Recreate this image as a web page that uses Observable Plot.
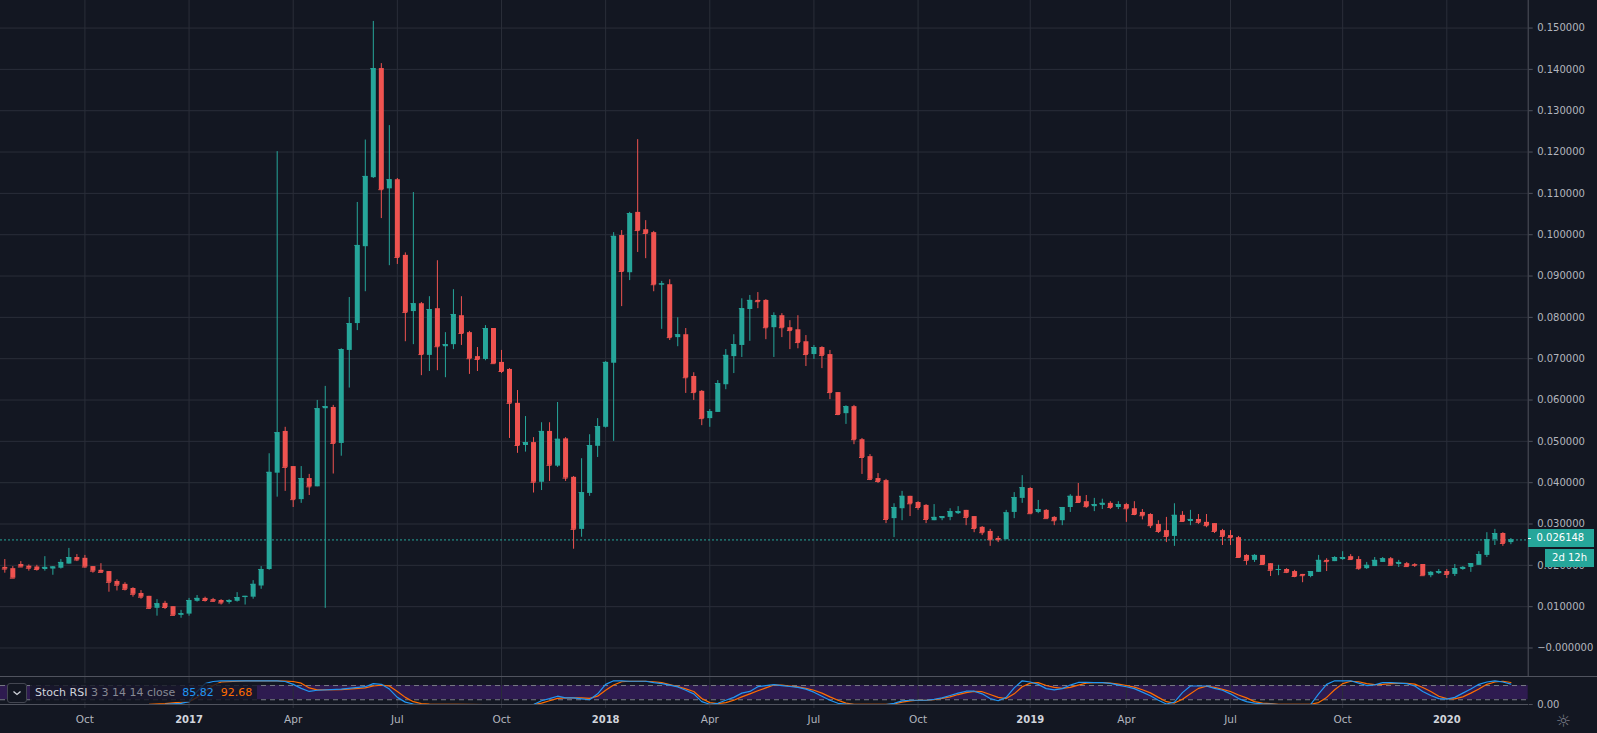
<!DOCTYPE html>
<html>
<head>
<meta charset="utf-8">
<script src="https://cdn.jsdelivr.net/npm/d3@7"></script>
<script src="https://cdn.jsdelivr.net/npm/@observablehq/plot@0.6"></script>
<style>
  html, body { margin:0; padding:0; background:#131722; }
  #wrap { position:relative; width:1597px; height:733px; overflow:hidden; background:#131722; font-family:"DejaVu Sans", Verdana, sans-serif; }
  #price, #stoch { position:absolute; left:0; }
  #price { top:0; }
  #stoch { top:676px; }
  .sep { position:absolute; left:0; height:1px; background:#50535e; }
  .tag { position:absolute; color:#fff; font-size:10px; box-sizing:border-box; }
  #legend { position:absolute; left:30px; top:683px; height:19px; line-height:19px; padding:0 5px; background:rgba(19,23,34,0.8); font-size:11px; white-space:nowrap; }
  #chev { position:absolute; left:7px; top:683px; width:20px; height:20px; border:1px solid #434651; border-radius:3px; box-sizing:border-box; background:#131722; }
  #gear { position:absolute; left:1556px; top:711px; color:#787b86; font-size:17px; font-family:"DejaVu Sans", sans-serif; }
</style>
</head>
<body>
<div id="wrap">
  <div id="price"></div>
  <div id="stoch"></div>
  <div class="sep" style="top:676px;width:1597px"></div>
  <div class="sep" style="top:704px;width:1528px"></div>
  <div id="chev"><svg width="18" height="18"><polyline points="5.5,7.5 9,10.5 12.5,7.5" fill="none" stroke="#d1d4dc" stroke-width="1.3"/></svg></div>
  <div id="legend"><span style="color:#d1d4dc">Stoch RSI</span><span style="color:#868993"> 3 3 14 14 close</span><span style="color:#2196f3">&nbsp; 85.82</span><span style="color:#ff6d00">&nbsp; 92.68</span></div>
  <div class="tag" id="lastTag" style="left:1528px;top:529px;width:66px;height:18px;line-height:18px;background:#26a69a;padding-left:8.5px"></div>
  <div style="position:absolute;left:1528px;top:538px;width:3px;height:1px;background:#fff"></div>
  <div class="tag" id="timerTag" style="left:1545px;top:549px;width:49px;height:18px;line-height:18px;background:#26a69a;text-align:center">2d 12h</div>
  <div id="gear">☼</div>
</div>
<script>
// ---- weekly candles (prices in thousandths, ×0.001), first bar = week of 2016-07-25 ----
const firstWeek = "2016-07-25";
const priceUnit = 0.001;
const openK = [19.5,19.2,20.2,19.8,19.6,19.0,19.1,19.3,20.3,21.9,21.7,19.7,18.8,18.5,16.1,15.4,14.4,13.2,12.5,9.6,
10.8,10.0,7.9,8.2,11.3,12.0,11.7,11.5,11.0,11.3,12.2,12.3,15.0,19.0,42.3,52.4,43.9,35.9,41.0,39.0,
57.9,58.2,49.5,72.0,78.5,97.1,113.8,140.2,111.1,113.3,95.0,81.4,83.3,70.8,82.1,72.9,73.4,80.4,76.3,70.5,
69.8,77.3,69.1,67.4,59.2,49.0,49.7,40.1,52.4,44.0,50.6,41.3,28.7,37.4,48.8,53.4,68.9,99.8,90.8,105.4,
101.2,100.5,87.8,87.9,75.1,75.8,65.7,62.1,55.5,57.0,63.7,70.5,73.2,81.9,84.1,84.1,77.5,80.4,77.5,77.0,
74.1,71.0,72.7,71.0,61.8,56.7,58.4,50.4,46.3,41.0,40.5,31.3,33.7,36.7,35.2,34.5,30.8,31.3,31.6,32.5,
33.3,31.8,29.2,28.2,26.5,26.2,32.8,36.2,38.6,32.8,33.3,31.6,30.8,34.0,36.7,35.4,34.2,34.5,35.0,34.0,
34.7,33.7,32.8,32.3,29.9,28.4,27.0,32.1,30.6,31.1,30.4,30.1,28.4,27.2,26.7,22.4,21.2,22.4,20.4,18.8,
19.0,18.5,17.8,17.3,18.3,21.2,20.9,21.4,22.1,21.4,19.2,19.7,20.7,21.6,20.2,20.4,20.2,20.2,17.5,18.0,
18.5,17.8,19.0,19.5,20.0,22.4,26.2,27.7,25.5];
const highK = [21.4,19.7,20.9,20.1,20.0,22.1,19.7,21.4,24.1,22.6,22.4,19.7,20.4,18.5,16.5,15.8,14.6,13.9,12.5,11.7,
11.3,10.0,9.1,12.0,12.7,12.3,12.0,11.7,11.7,13.4,12.5,16.3,19.7,47.0,120.1,53.4,43.9,43.9,42.0,59.9,
63.3,58.7,72.4,84.8,107.8,122.9,151.6,141.4,126.4,113.6,95.6,110.2,83.6,85.0,93.7,76.3,86.7,85.0,76.6,72.7,
78.0,77.3,72.0,67.6,62.3,56.0,50.9,54.5,54.5,59.4,50.9,41.5,45.8,51.6,55.5,69.3,100.5,101.0,105.4,123.0,
103.4,100.8,88.7,89.1,79.9,77.3,66.6,62.3,57.7,64.7,72.2,75.8,84.5,85.3,86.0,84.3,81.1,80.9,79.2,80.4,
75.6,73.2,72.9,72.0,61.8,58.6,58.7,50.7,46.8,42.2,40.8,34.9,37.9,36.7,35.4,34.7,34.7,31.8,33.7,34.2,
33.3,31.8,29.4,28.7,27.0,33.3,37.6,41.7,38.8,35.7,33.5,31.8,34.0,37.1,39.8,36.9,36.2,36.0,35.4,35.4,
35.0,35.4,33.5,32.5,30.8,31.6,34.9,33.0,33.3,32.3,32.3,30.1,28.7,28.4,27.0,22.6,22.6,22.4,20.4,20.0,
19.2,18.8,17.8,18.5,22.4,21.6,22.1,23.3,22.6,22.1,20.7,21.9,21.9,21.9,21.2,20.7,20.4,20.2,18.5,19.0,
19.0,20.2,19.7,20.4,23.3,27.9,28.7,27.9,26.5];
const lowK = [18.1,16.9,19.6,18.6,18.6,18.6,17.6,19.1,20.3,20.9,19.3,18.1,18.3,13.5,13.8,13.8,12.3,11.8,9.3,7.7,
9.3,7.7,7.2,7.7,11.1,11.1,11.1,10.4,10.6,11.1,10.4,11.8,14.2,18.8,36.5,37.9,34.0,35.0,36.9,39.0,
9.6,42.1,46.4,62.9,76.8,86.2,113.6,103.9,92.5,92.8,74.1,73.4,65.9,66.9,67.1,65.4,72.2,73.2,66.2,66.9,
69.5,68.8,66.4,50.7,47.1,47.4,37.5,38.1,40.3,43.7,40.3,23.9,26.8,36.7,46.1,53.2,50.0,82.6,88.9,95.7,
94.2,86.2,77.1,74.4,72.9,61.6,59.9,53.8,53.4,57.0,62.5,66.4,70.3,74.2,82.1,74.6,70.3,75.1,72.2,72.4,
68.1,69.8,67.6,60.1,56.2,54.1,49.2,42.0,40.5,39.8,30.1,26.7,30.8,31.8,33.3,30.1,30.8,30.8,30.8,32.3,
29.6,27.9,27.2,24.6,25.5,26.2,31.3,35.0,32.3,32.5,31.3,29.6,29.6,32.8,35.2,33.8,33.0,33.5,33.5,33.5,
30.4,32.0,31.0,28.9,27.7,25.5,24.6,30.4,29.6,29.9,29.1,27.7,24.8,24.8,21.9,20.0,20.7,20.0,17.3,17.5,
18.0,17.0,15.8,17.0,18.3,18.5,20.9,21.2,21.2,18.8,19.0,19.7,20.7,20.0,19.5,19.5,19.5,17.5,17.0,17.8,
16.8,17.3,18.8,18.3,20.0,21.9,24.8,24.6,25.0];
const closeK = [19.1,16.9,19.6,19.3,19.0,19.5,19.6,20.7,21.9,21.3,19.6,18.6,18.3,15.9,15.2,14.2,13.0,12.3,9.6,10.7,
9.8,7.9,8.3,11.5,12.0,11.5,11.3,10.9,11.5,12.2,12.5,15.4,19.0,42.5,52.1,43.7,35.9,41.0,39.0,57.9,
58.4,49.5,72.2,78.5,97.4,114.1,140.2,110.9,113.3,94.5,81.2,83.3,71.0,81.9,72.9,73.4,80.7,76.1,70.0,69.8,
77.3,68.8,66.9,59.2,49.0,49.7,40.1,52.4,44.2,50.5,41.1,28.7,37.6,49.0,53.6,69.1,99.6,91.1,105.1,101.0,
100.3,87.9,88.1,75.1,75.8,65.4,61.8,55.5,57.2,64.0,70.8,73.4,82.1,84.1,83.8,77.5,80.4,77.5,76.8,73.9,
71.0,72.7,70.8,61.8,56.5,58.4,50.4,46.1,40.8,40.3,31.1,34.0,36.7,34.9,34.0,31.1,31.6,31.8,33.0,33.0,
31.6,28.9,27.9,26.2,26.2,32.7,36.4,38.8,32.5,33.5,31.3,30.8,34.0,36.7,35.2,34.2,34.7,35.0,34.0,34.7,
33.7,32.3,32.0,29.6,28.2,27.0,32.1,30.6,31.1,30.4,29.6,28.2,27.0,26.7,21.9,21.2,22.4,20.2,18.8,19.0,
18.3,17.3,17.5,18.5,21.2,20.9,21.9,21.9,21.4,19.2,20.0,21.2,21.6,20.0,20.7,19.7,20.0,17.5,18.3,18.5,
17.8,19.2,19.5,20.4,22.6,26.2,27.7,25.3,26.148];
const lastPrice = 0.026148;
const lastPriceLabel = "0.026148";

// ---- Stoch RSI (%K blue, %D orange) read at bar indices ----
const stochIdx = [12,15,18,20,22,23,24,25,26,27,30,34,35,36,37,38,39,42,45,46,47,48,49,50,51,52,53,60,63,66,67,68,69,70,71,72,73,74,75,76,77,78,80,81,82,83,84,85,86,87,88,89,90,91,92,93,94,95,96,97,98,99,100,101,102,103,104,105,106,110,111,112,113,114,115,116,117,118,119,120,121,122,123,124,125,126,127,128,129,130,131,132,133,134,135,136,137,138,139,140,141,142,143,144,145,146,147,148,149,150,151,152,153,154,155,156,157,158,159,163,164,165,166,167,168,169,170,171,172,173,174,175,176,177,178,179,180,181,182,183,184,185,186,187,188];
const stochK = [0,0,0,1,5,12,55,88,97,100,100,100,97,85,68,55,60,65,75,88,85,65,30,10,2,0,0,0,0,0,16,25,35,28,28,24,20,45,85,100,100,98,98,92,88,82,74,60,45,12,1,5,18,30,48,55,75,80,84,80,76,72,65,52,35,18,5,2,0,0,5,15,18,18,18,22,28,38,48,56,56,45,25,16,30,70,100,95,85,67,62,67,82,93,93,92,92,89,82,75,67,52,37,18,2,10,50,78,78,78,68,60,45,25,12,6,3,2,0,0,45,85,100,100,100,90,80,83,92,92,90,88,78,55,38,25,23,30,48,65,85,95,100,95,85.82];
const stochD = [0,0,1,4,10,12,30,55,80,95,100,100,99,97,90,70,62,63,70,78,82,78,55,30,12,4,2,0,0,0,6,16,26,28,28,28,26,35,60,82,96,98,98,96,92,84,76,66,55,25,8,4,8,18,32,45,58,70,82,82,78,74,68,60,48,32,18,6,1,1,2,10,15,18,18,20,26,32,42,50,55,54,42,30,25,45,75,90,92,80,72,68,72,82,90,92,92,90,86,80,73,62,49,30,12,6,22,45,68,77,72,64,55,40,28,12,6,4,1,1,8,30,62,88,98,96,88,84,85,88,89,89,86,72,55,35,25,24,32,48,65,85,95,98,92.68];
const bandLevels = [20, 80];

// ---- axes ----
const priceTicks = [0.15,0.14,0.13,0.12,0.11,0.10,0.09,0.08,0.07,0.06,0.05,0.04,0.03,0.02,0.01,0];
const priceTickLabels = ["0.150000","0.140000","0.130000","0.120000","0.110000","0.100000","0.090000","0.080000","0.070000","0.060000","0.050000","0.040000","0.030000","0.020000","0.010000","\u22120.000000"];
const timeTickDates = ["2016-10-03","2017-01-02","2017-04-03","2017-07-03","2017-10-02","2018-01-01","2018-04-02","2018-07-02","2018-10-01","2019-01-07","2019-04-01","2019-07-01","2019-10-07","2020-01-06"];
const timeTickLabels = ["Oct","2017","Apr","Jul","Oct","2018","Apr","Jul","Oct","2019","Apr","Jul","Oct","2020"];
const stochAxisLabel = "0.00";

// ---- build ----
const WEEK = 7 * 864e5;
const t0 = Date.parse(firstWeek + "T00:00:00Z");
const dateAt = i => new Date(t0 + i * WEEK);
const xDomain = [dateAt(-0.537), dateAt(190.16)];
const halfBody = 0.31 * WEEK;

const candles = openK.map((o, i) => ({
  date: dateAt(i), open: o * priceUnit, high: highK[i] * priceUnit, low: lowK[i] * priceUnit, close: closeK[i] * priceUnit
}));
const up = candles.filter(d => d.close >= d.open);
const down = candles.filter(d => d.close < d.open);
const ticks = timeTickDates.map((s, i) => ({date: new Date(s + "T00:00:00Z"), label: timeTickLabels[i], year: /^\d{4}$/.test(timeTickLabels[i])}));
const stoch = stochIdx.map((ix, i) => ({date: dateAt(ix), k: stochK[i], d: stochD[i]}));

const GREEN = "#26a69a", RED = "#ef5350", GRID = "#2a2e39";
const FONT = "'DejaVu Sans', Verdana, sans-serif";

function candleMarks(data, color) {
  return [
    Plot.ruleX(data, {x: "date", y1: "low", y2: "high", stroke: color, strokeWidth: 1}),
    Plot.ruleX(data, {x: "date", y1: "open", y2: "close", stroke: color, strokeWidth: 5}),
    Plot.ruleY(data, {y: "close", x1: d => new Date(+d.date - halfBody), x2: d => new Date(+d.date + halfBody), stroke: color, strokeWidth: 1})
  ];
}

const W = 1597, RIGHT = 69.3;
const pricePlot = Plot.plot({
  width: W, height: 676, marginLeft: 0, marginRight: RIGHT, marginTop: 0, marginBottom: 0,
  style: {background: "transparent", color: "#b2b5be", fontFamily: FONT, fontSize: "10px"},
  x: {type: "utc", domain: xDomain, axis: null},
  y: {domain: [-0.006896, 0.156668], axis: null},
  marks: [
    Plot.ruleY(priceTicks, {stroke: GRID, strokeWidth: 1}),
    Plot.ruleX(ticks, {x: "date", stroke: GRID, strokeWidth: 1}),
    Plot.ruleY([lastPrice], {stroke: GREEN, strokeDasharray: "2,2", strokeWidth: 1}),
    ...candleMarks(down, RED),
    ...candleMarks(up, GREEN),
    Plot.ruleX([xDomain[1]], {stroke: "#50535e", strokeWidth: 1}),
    Plot.axisY({anchor: "right", ticks: priceTicks, tickFormat: d => priceTickLabels[priceTicks.indexOf(d)], tickSize: 4, tickPadding: 5, stroke: "#50535e", fill: "#b2b5be", textAnchor: "start", fontSize: 10})
  ]
});
document.getElementById("price").appendChild(pricePlot);

const stochPlot = Plot.plot({
  width: W, height: 57, marginLeft: 0, marginRight: RIGHT, marginTop: 0, marginBottom: 29,
  style: {background: "transparent", color: "#b2b5be", fontFamily: FONT, fontSize: "10px"},
  x: {type: "utc", domain: xDomain, axis: null},
  y: {domain: [0, 118.1], axis: null},
  marks: [
    Plot.rect([bandLevels], {x1: () => xDomain[0], x2: () => xDomain[1], y1: d => d[0], y2: d => d[1], fill: "#2e1b50"}),
    Plot.ruleX(ticks, {x: "date", stroke: GRID, strokeWidth: 1, insetBottom: -4}),
    Plot.ruleY(bandLevels, {stroke: "#787b86", strokeDasharray: "5,4", strokeWidth: 1}),
    Plot.line(stoch, {x: "date", y: "d", stroke: "#ff6d00", strokeWidth: 1.2}),
    Plot.line(stoch, {x: "date", y: "k", stroke: "#2196f3", strokeWidth: 1.2}),
    Plot.text(ticks.filter(d => !d.year), {x: "date", text: "label", frameAnchor: "bottom", dy: 18.5, fill: "#b2b5be", fontSize: 10.5}),
    Plot.text(ticks.filter(d => d.year), {x: "date", text: "label", frameAnchor: "bottom", dy: 18.5, fill: "#d1d4dc", fontSize: 10, fontWeight: "bold"}),
    Plot.axisY({anchor: "right", ticks: [0], tickFormat: () => stochAxisLabel, tickSize: 4, tickPadding: 5, stroke: "#50535e", fill: "#b2b5be", textAnchor: "start", fontSize: 10})
  ]
});
document.getElementById("stoch").appendChild(stochPlot);

document.getElementById("lastTag").textContent = lastPriceLabel;
</script>
</body>
</html>
